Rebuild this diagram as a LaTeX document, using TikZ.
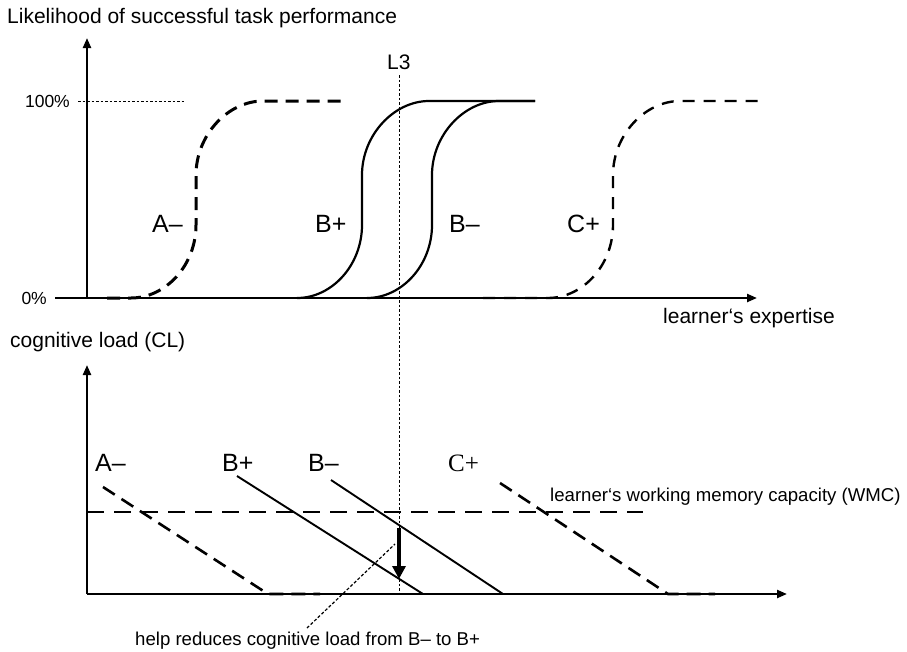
\documentclass[tikz,border=0pt]{standalone}
\usepackage{fontspec}
\setmainfont{Liberation Sans}
\newfontfamily\serifface{Liberation Serif}
\usetikzlibrary{arrows.meta}
\tikzset{
  axisline/.style={line width=2.2pt,-{Triangle[length=10pt,width=8pt]}},
  solidcurve/.style={line width=2.2pt},
  dashA/.style={line width=3pt,dash pattern=on 13pt off 8pt},
  dashC/.style={line width=2.4pt,dash pattern=on 12pt off 9pt},
  dashlow/.style={line width=2.6pt,dash pattern=on 14pt off 8pt},
  solidlow/.style={line width=1.9pt},
  wmcline/.style={line width=1.4pt,dash pattern=on 17pt off 10pt},
  thindot/.style={line width=0.9pt,dash pattern=on 2.5pt off 2pt},
  bigtxt/.style={inner sep=0pt,anchor=base west,font=\fontsize{21}{25}\selectfont},
  midtxt/.style={inner sep=0pt,anchor=base west,font=\fontsize{18.6}{22}\selectfont},
  pcttxt/.style={inner sep=0pt,anchor=base east,font=\fontsize{17.5}{21}\selectfont},
  curvelbl/.style={inner sep=0pt,anchor=base west,font=\fontsize{25}{30}\selectfont},
  sig/.style={insert path={-- ({#1-65},298) .. controls ({#1-30},298) and ({#1},265) .. ({#1},225) -- ({#1},175) .. controls ({#1},135) and ({#1+32},101) .. ({#1+67},101)}}
}
\begin{document}
\begin{tikzpicture}[x=1pt,y=-1pt]
\useasboundingbox (0,0) rectangle (907,651);
% ---------- top chart ----------
\node[bigtxt] (title) at (7,23) {Likelihood of successful task performance};
\coordinate (o1) at (87,298);
\coordinate (ytop1) at (87,38);
\coordinate (xs1) at (55,298);
\coordinate (xe1) at (757,298);
\draw[axisline] (o1) -- (ytop1);
\draw[axisline] (xs1) -- (xe1);
\node[pcttxt] (p100) at (70,107) {100\%};
\node[pcttxt] (p0) at (47,304) {0\%};
\coordinate (h1) at (78,101);
\coordinate (h2) at (185,101);
\draw[thindot] (h1) -- (h2);
\node[bigtxt] (xlab) at (663,323) {learner‘s expertise};
% L3
\node[bigtxt] (l3) at (387,69) {L3};
\coordinate (l3top) at (399,75);
\coordinate (l3bot) at (399,594);
\draw[thindot] (l3top) -- (l3bot);
% curves
\draw[dashA] (107,298) [sig=196] -- (345,101);
\draw[solidcurve] (297,298) [sig=362] -- (535,101);
\draw[solidcurve] (367,298) [sig=432] -- (535,101);
\draw[dashC] (483,298) [sig=613] -- (760,101);
\node[curvelbl] (tA) at (152,232) {A–};
\node[curvelbl] (tBp) at (315,232) {B+};
\node[curvelbl] (tBm) at (449,232) {B–};
\node[curvelbl] (tC) at (567,232) {C+};
% ---------- bottom chart ----------
\node[bigtxt] (cl) at (10,347) {cognitive load (CL)};
\coordinate (o2) at (87,594);
\coordinate (ytop2) at (87,365);
\coordinate (xe2) at (787,594);
\draw[axisline] (o2) -- (ytop2);
\draw[axisline] (o2) -- (xe2);
\coordinate (w1) at (87,512);
\coordinate (w2) at (643,512);
\draw[wmcline] (w1) -- (w2);
\node[midtxt] (wmc) at (550,501) {learner‘s working memory capacity (WMC)};
\draw[dashlow] (103,487) -- (268,594) -- (320,594);
\draw[solidlow] (237,476) -- (423,594);
\draw[solidlow] (331,480) -- (503,594);
\draw[dashlow] (500,483) -- (668,594) -- (715,594);
\node[curvelbl] (bA) at (95,471) {A–};
\node[curvelbl] (bBp) at (222,471) {B+};
\node[curvelbl] (bBm) at (308,471) {B–};
\node[curvelbl,font=\fontsize{25}{30}\selectfont\serifface] (bC) at (448,471) {C+};
% help arrow
\coordinate (a1) at (399,528);
\coordinate (a2) at (399,579);
\draw[line width=4pt,-{Triangle[length=13pt,width=13pt]}] (a1) -- (a2);
\node[midtxt] (help) at (135,645) {help reduces cognitive load from B– to B+};
\coordinate (d1) at (307,628);
\coordinate (d2) at (395,544);
\draw[line width=1.2pt,dash pattern=on 3pt off 2pt] (d1) -- (d2);
\end{tikzpicture}
\end{document}
